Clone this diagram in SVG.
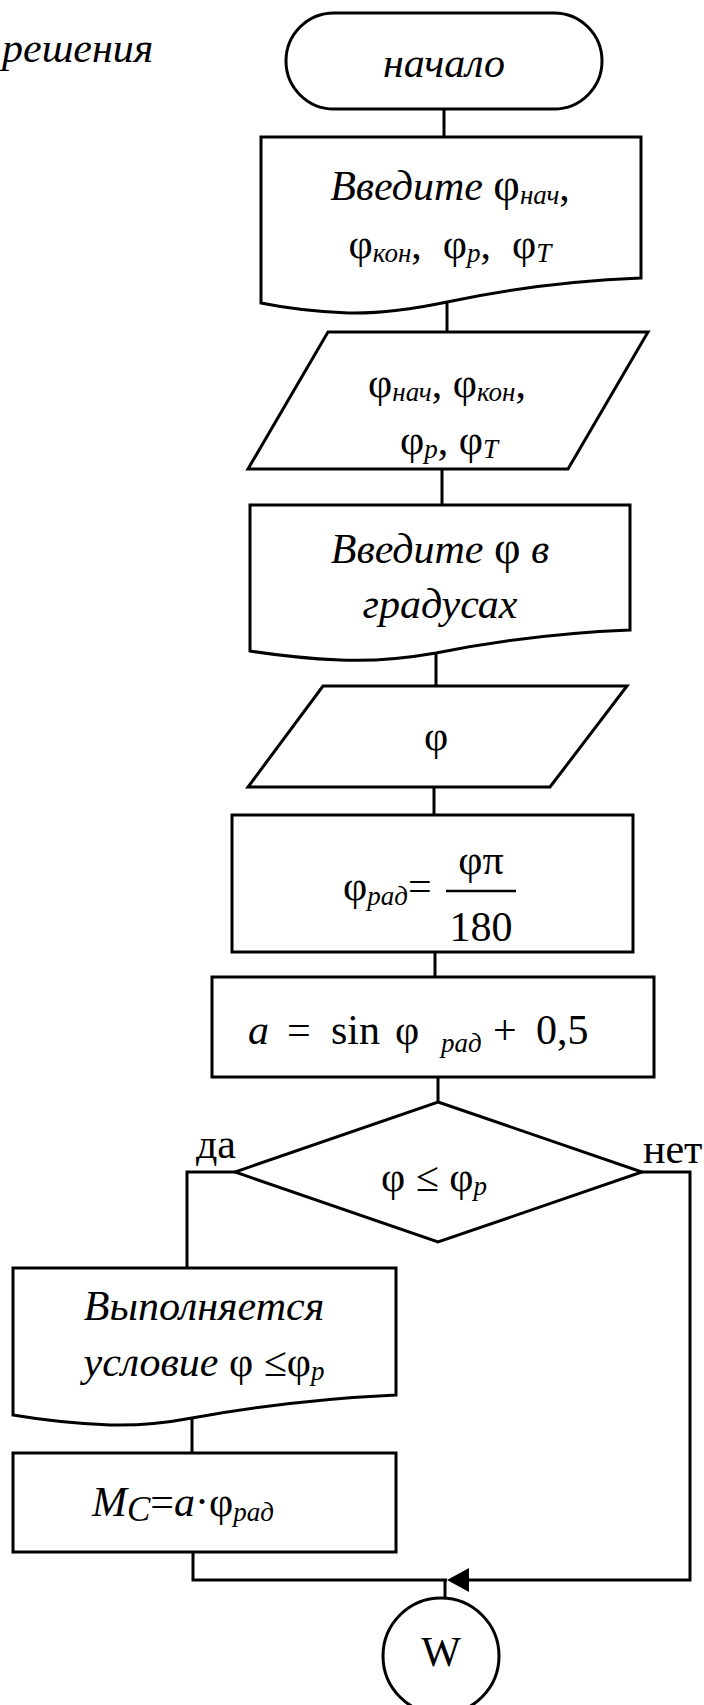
<svg xmlns="http://www.w3.org/2000/svg" width="704" height="1705" viewBox="0 0 704 1705">
<style>
.s{fill:#fff;stroke:#000;stroke-width:3;stroke-linejoin:miter}
.c{fill:none;stroke:#000;stroke-width:3}
.t{font-family:"Liberation Serif","Times New Roman",serif;font-size:42px;fill:#000}
.i{font-style:italic}
.sub{font-size:27px;font-style:italic}
.m{text-anchor:middle}
</style>
<rect width="704" height="1705" fill="#fff"/>
<text class="t i" x="2" y="62" font-size="38">решения</text>

<g id="connectors">
<line class="c" x1="444" y1="109" x2="444" y2="137"/>
<line class="c" x1="447" y1="303" x2="447" y2="332"/>
<line class="c" x1="442" y1="469" x2="442" y2="505"/>
<line class="c" x1="436" y1="653" x2="436" y2="686"/>
<line class="c" x1="434" y1="787" x2="434" y2="815"/>
<line class="c" x1="435" y1="952" x2="435" y2="977"/>
<line class="c" x1="438" y1="1077" x2="438" y2="1102"/>
<polyline class="c" points="235,1172 187,1172 187,1268"/>
<polyline class="c" points="642,1172 690,1172 690,1580 468,1580"/>
<path d="M447,1580 L469,1568 L469,1592 Z" fill="#000"/>
<line class="c" x1="192" y1="1418" x2="192" y2="1453"/>
<polyline class="c" points="193,1552 193,1580 447,1580"/>
<line class="c" x1="445" y1="1580" x2="445" y2="1598"/>
<text class="t" x="196" y="1158" font-size="38">да</text>
<text class="t" x="643" y="1163" font-size="40">нет</text>
</g>

<g id="start">
<rect class="s" x="286" y="13" width="316" height="96" rx="48" ry="48"/>
<text class="t i m" x="444" y="77" font-size="40">начало</text>
</g>

<g id="prompt1">
<path class="s" d="M261,137 H641 V278 Q540,282 447,302 Q390,314 348,313 Q300,311 261,303 Z"/>
<text class="t m" x="450" y="200"><tspan class="i">Введите </tspan><tspan font-size="46">φ</tspan><tspan class="sub" dy="4">нач</tspan><tspan dy="-4">,</tspan></text>
<text class="t m" x="450" y="258" font-size="48" xml:space="preserve">φ<tspan class="sub" font-size="30" dy="4">кон</tspan><tspan dy="-4">,  φ</tspan><tspan class="sub" font-size="30" dy="4">р</tspan><tspan dy="-4">,  φ</tspan><tspan class="sub" font-size="30" dy="4">Т</tspan></text>
</g>

<g id="input1">
<polygon class="s" points="328,332 648,332 568,469 248,469"/>
<text class="t m" x="447" y="397" font-size="50">φ<tspan class="sub" font-size="32" dy="4">нач</tspan><tspan dy="-4">, φ</tspan><tspan class="sub" font-size="32" dy="4">кон</tspan><tspan dy="-4">,</tspan></text>
<text class="t m" x="449" y="454" font-size="50">φ<tspan class="sub" font-size="32" dy="4">р</tspan><tspan dy="-4">, φ</tspan><tspan class="sub" font-size="32" dy="4">Т</tspan></text>
</g>

<g id="prompt2">
<path class="s" d="M250,505 H630 V630 Q530,634 436,653 Q385,662 340,660 Q295,658 250,651 Z"/>
<text class="t i m" x="440" y="563">Введите <tspan font-style="normal" font-size="46">φ</tspan> в</text>
<text class="t i m" x="440" y="618">градусах</text>
</g>

<g id="input2">
<polygon class="s" points="323,686 627,686 550,787 248,787"/>
<text class="t m" x="436" y="750" font-size="60">φ</text>
</g>

<g id="rad">
<rect class="s" x="232" y="815" width="401" height="137"/>
<text class="t" x="343" y="900" font-size="46">φ<tspan class="sub" font-size="29" dy="5">рад</tspan><tspan dy="-5">=</tspan></text>
<line x1="446" y1="891" x2="516" y2="891" stroke="#000" stroke-width="2.5"/>
<text class="t m" x="481" y="874" font-size="52">φπ</text>
<text class="t m" x="481" y="941" font-size="52">180</text>
</g>

<g id="calc-a">
<rect class="s" x="212" y="977" width="442" height="100"/>
<text class="t i" x="248" y="1044" font-size="54">a</text>
<text class="t" x="287" y="1044" font-size="54">=</text>
<text class="t" x="331" y="1044" font-size="54">sin</text>
<text class="t" x="395" y="1044" font-size="54">φ</text>
<text class="t sub" x="441" y="1052" font-size="30">рад</text>
<text class="t" x="493" y="1044" font-size="54">+</text>
<text class="t" x="536" y="1044" font-size="54">0,5</text>
</g>

<g id="decision">
<polygon class="s" points="438,1102 642,1172 438,1242 235,1172"/>
<text class="t" x="381" y="1191" font-size="46">φ ≤ φ<tspan class="sub" font-size="29" dy="4">р</tspan></text>
</g>

<g id="message">
<path class="s" d="M13,1268 H396 V1395 Q290,1400 192,1418 Q150,1426 110,1425 Q60,1423 13,1415 Z"/>
<text class="t i m" x="204" y="1320">Выполняется</text>
<text class="t i m" x="204" y="1376">условие <tspan font-style="normal">φ ≤φ</tspan><tspan class="sub" dy="4">р</tspan></text>
</g>

<g id="calc-mc">
<rect class="s" x="13" y="1453" width="383" height="99"/>
<text class="t i" x="92" y="1516" font-size="52">M<tspan font-size="35" dy="5">C</tspan><tspan font-style="normal" dy="-5">=</tspan>a<tspan font-style="normal">·φ</tspan><tspan class="sub" font-size="34" dy="5">рад</tspan></text>
</g>

<g id="connector-w">
<circle class="s" cx="441" cy="1656" r="58"/>
<text class="t m" x="441" y="1666" font-size="42">W</text>
</g>
</svg>
